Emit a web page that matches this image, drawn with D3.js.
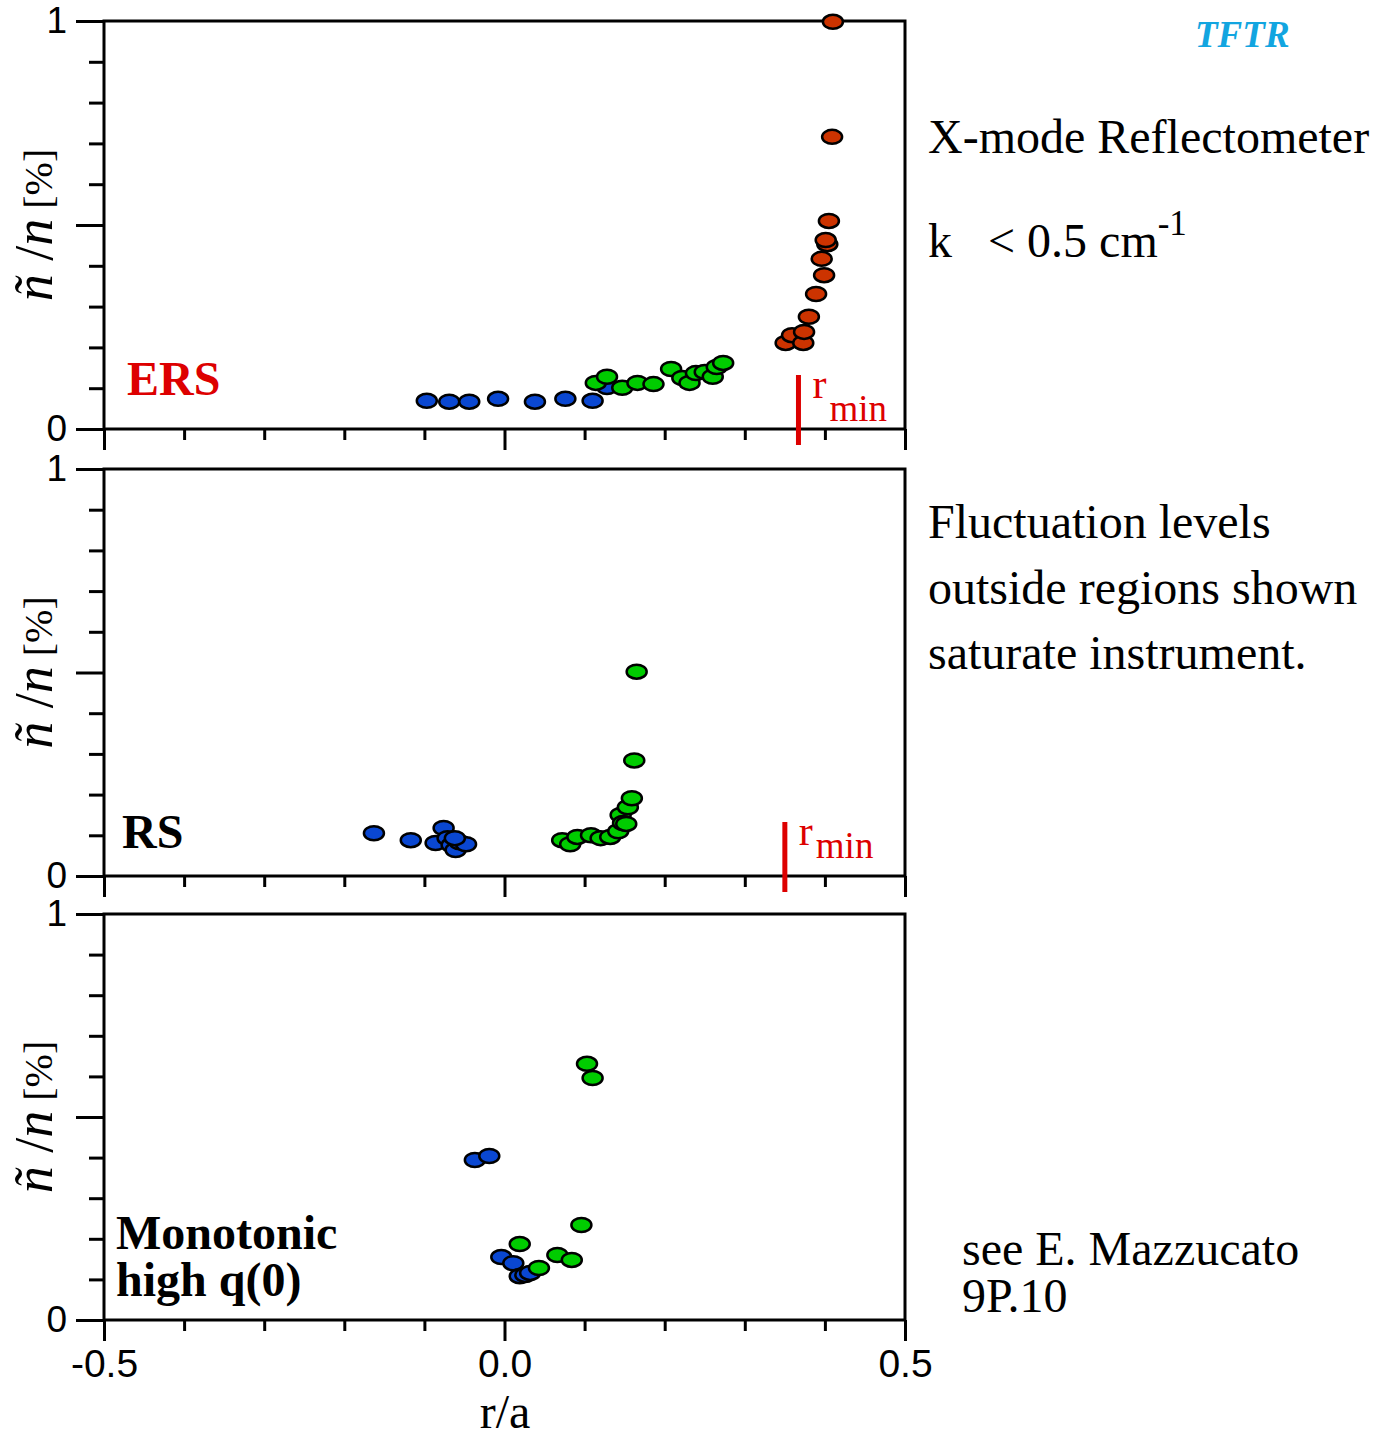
<!DOCTYPE html>
<html>
<head>
<meta charset="utf-8">
<script src="https://cdn.jsdelivr.net/npm/d3@7"></script>
<style>
  body { margin: 0; background: #fff; }
  svg text { font-family: "Liberation Serif", "Times New Roman", serif; }
</style>
</head>
<body>
<div id="chart"></div>
<script>
// Values: [r/a, fluctuation level]
const ersBlue = [[-0.097, 0.069], [-0.069, 0.067], [-0.044, 0.067], [-0.008, 0.074], [0.038, 0.067], [0.076, 0.074], [0.110, 0.069], [0.128, 0.103]];
const ersGreen = [[0.114, 0.113], [0.128, 0.128], [0.147, 0.101], [0.166, 0.113], [0.186, 0.110], [0.208, 0.147], [0.222, 0.125], [0.231, 0.113], [0.239, 0.137], [0.250, 0.140], [0.260, 0.128], [0.265, 0.152], [0.273, 0.162]];
const ersRed = [[0.351, 0.211], [0.359, 0.230], [0.373, 0.211], [0.374, 0.238], [0.380, 0.275], [0.389, 0.331], [0.399, 0.377], [0.396, 0.417], [0.403, 0.453], [0.401, 0.463], [0.405, 0.510], [0.409, 0.716], [0.410, 0.998]];

const rsBlue = [[-0.163, 0.105], [-0.117, 0.088], [-0.086, 0.081], [-0.076, 0.118], [-0.071, 0.093], [-0.066, 0.076], [-0.061, 0.064], [-0.056, 0.083], [-0.048, 0.078], [-0.062, 0.093]];
const rsGreen = [[0.072, 0.088], [0.082, 0.078], [0.091, 0.096], [0.108, 0.100], [0.120, 0.093], [0.132, 0.096], [0.142, 0.110], [0.145, 0.150], [0.148, 0.130], [0.152, 0.128], [0.154, 0.169], [0.159, 0.191], [0.162, 0.284], [0.165, 0.502]];

const monoBlue = [[-0.037, 0.394], [-0.019, 0.404], [-0.004, 0.155], [0.011, 0.140], [0.019, 0.108], [0.026, 0.111], [0.032, 0.116]];
const monoGreen = [[0.103, 0.631], [0.110, 0.596], [0.019, 0.187], [0.043, 0.128], [0.066, 0.160], [0.084, 0.148], [0.096, 0.234]];

const xMinorTicks = [-0.4, -0.3, -0.2, -0.1, 0.1, 0.2, 0.3, 0.4];
const xMajorTicks = [-0.5, 0, 0.5];
const xTickLabels = ["-0.5", "0.0", "0.5"];
const yMinorTicks = [0.1, 0.2, 0.3, 0.4, 0.6, 0.7, 0.8, 0.9];
const yMajorTicks = [0, 0.5, 1];
const rMinPositions = [0.367, 0.35];

const colors = { blue: "#0a47d1", green: "#00cc00", red: "#cc3300" };

const width = 1387, height = 1437;
const svg = d3.select("#chart").append("svg")
  .attr("width", width)
  .attr("height", height);

const x = d3.scaleLinear().domain([-0.5, 0.5]).range([104, 905]);

// three stacked panels
const panels = [
  { top: 21, bottom: 429, series: [[ersBlue, colors.blue], [ersGreen, colors.green], [ersRed, colors.red]] },
  { top: 469, bottom: 876, series: [[rsBlue, colors.blue], [rsGreen, colors.green]] },
  { top: 914, bottom: 1320, series: [[monoBlue, colors.blue], [monoGreen, colors.green]] }
];

panels.forEach(function(p, i) {
  const y = d3.scaleLinear().domain([0, 1]).range([p.bottom, p.top]);
  const g = svg.append("g");

  // x ticks (minor + major)
  g.append("g")
    .attr("transform", "translate(0," + p.bottom + ")")
    .call(d3.axisBottom(x).tickValues(xMinorTicks).tickSize(11).tickFormat(""))
    .call(a => a.select(".domain").remove());
  const xMaj = g.append("g")
    .attr("transform", "translate(0," + p.bottom + ")")
    .call(d3.axisBottom(x).tickValues(xMajorTicks).tickSize(21).tickPadding(8)
      .tickFormat((d, k) => i === 2 ? xTickLabels[k] : ""))
    .call(a => a.select(".domain").remove());
  xMaj.selectAll("text")
    .style("font-family", "'Liberation Sans', Arial, sans-serif")
    .style("font-size", "39px")
    .attr("fill", "#000");

  // y ticks
  g.append("g")
    .attr("transform", "translate(104,0)")
    .call(d3.axisLeft(y).tickValues(yMinorTicks).tickSize(15).tickFormat(""))
    .call(a => a.select(".domain").remove());
  const yMaj = g.append("g")
    .attr("transform", "translate(104,0)")
    .call(d3.axisLeft(y).tickValues(yMajorTicks).tickSize(28).tickPadding(9)
      .tickFormat(d => d === 0.5 ? "" : d3.format("d")(d)))
    .call(a => a.select(".domain").remove());
  yMaj.selectAll("text")
    .style("font-family", "'Liberation Sans', Arial, sans-serif")
    .style("font-size", "37px")
    .attr("fill", "#000");

  g.selectAll(".tick line").attr("stroke", "#000").attr("stroke-width", 3);

  // frame
  g.append("rect")
    .attr("x", 104).attr("y", p.top)
    .attr("width", 905 - 104).attr("height", p.bottom - p.top)
    .attr("fill", "none").attr("stroke", "#000").attr("stroke-width", 3);

  // axis label
  const lab = g.append("text")
    .attr("transform", "translate(52," + ((p.top + p.bottom) / 2) + ") rotate(-90)")
    .attr("text-anchor", "middle")
    .style("font-size", "54px");
  lab.append("tspan").attr("font-style", "italic").text("ñ");
  lab.append("tspan").text(" /");
  lab.append("tspan").attr("font-style", "italic").text("n");
  lab.append("tspan").style("font-size", "40px").text(" [%]");

  // points
  p.series.forEach(function(s) {
    g.selectAll(null)
      .data(s[0])
      .enter()
      .append("ellipse")
      .attr("cx", d => x(d[0]))
      .attr("cy", d => y(d[1]))
      .attr("rx", 10)
      .attr("ry", 7)
      .attr("fill", s[1])
      .attr("stroke", "#000")
      .attr("stroke-width", 2.5);
  });
});

// r_min markers
[[0, 375, 445, 398, 421], [1, 822, 892, 845, 858]].forEach(function(m, k) {
  const xp = x(rMinPositions[k]);
  svg.append("line")
    .attr("x1", xp).attr("x2", xp)
    .attr("y1", m[1]).attr("y2", m[2])
    .attr("stroke", "#dd0000").attr("stroke-width", 5);
  svg.append("text")
    .attr("x", xp + 14).attr("y", m[3])
    .attr("fill", "#dd0000")
    .style("font-size", "42px")
    .text("r");
  svg.append("text")
    .attr("x", xp + 31).attr("y", m[4])
    .attr("fill", "#dd0000")
    .style("font-size", "37px")
    .text("min");
});

// panel names
svg.append("text").attr("x", 127).attr("y", 395)
  .attr("fill", "#dd0000").attr("font-weight", "bold")
  .style("font-size", "48px").text("ERS");
svg.append("text").attr("x", 122).attr("y", 848)
  .attr("font-weight", "bold").style("font-size", "48px").text("RS");
svg.append("text").attr("x", 116).attr("y", 1249)
  .attr("font-weight", "bold").style("font-size", "48px").text("Monotonic");
svg.append("text").attr("x", 116).attr("y", 1296)
  .attr("font-weight", "bold").style("font-size", "48px").text("high q(0)");

// x axis title
svg.append("text").attr("x", 505).attr("y", 1428)
  .attr("text-anchor", "middle").style("font-size", "48px").text("r/a");

// right side notes
svg.append("text").attr("x", 1195).attr("y", 47)
  .attr("fill", "#12a5e0").attr("font-weight", "bold").attr("font-style", "italic")
  .style("font-size", "37px").text("TFTR");

svg.append("text").attr("x", 928).attr("y", 153)
  .style("font-size", "48px").text("X-mode Reflectometer");

const kText = svg.append("text").attr("x", 928).attr("y", 257).style("font-size", "48px");
kText.append("tspan").text("k");
kText.append("tspan").attr("x", 988).text("< 0.5 cm");
kText.append("tspan").attr("dy", -22).style("font-size", "35px").text("-1");

["Fluctuation levels", "outside regions shown", "saturate instrument."].forEach(function(t, k) {
  svg.append("text").attr("x", 928).attr("y", 538 + k * 65.5)
    .style("font-size", "48px").text(t);
});

svg.append("text").attr("x", 962).attr("y", 1265).style("font-size", "48px").text("see E. Mazzucato");
svg.append("text").attr("x", 962).attr("y", 1312).style("font-size", "48px").text("9P.10");
</script>
</body>
</html>
